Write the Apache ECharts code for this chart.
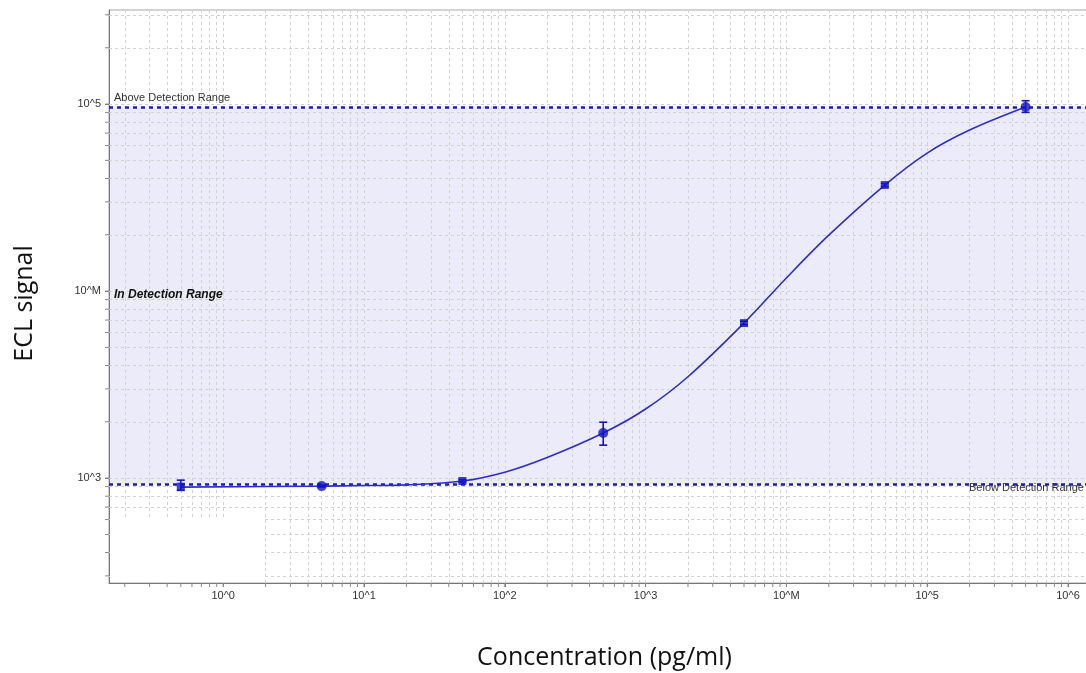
<!DOCTYPE html>
<html>
<head>
<meta charset="utf-8">
<title>ECL signal vs concentration</title>
<script src="https://cdn.jsdelivr.net/npm/echarts@6/dist/echarts.min.js"></script>
<style>
  html, body { margin: 0; padding: 0; background: #fff; }
  #chart { width: 1086px; height: 673px; }
</style>
</head>
<body>
<div id="chart"></div>
<script>
// 标准品浓度 (pg/ml) 与测得信号
const concentrations = [0.5, 5, 50, 500, 5000, 50000, 500000];
const meanSignal = [900, 906, 965, 1741, 6745, 36900, 96400];
const errLow = [860, 896, 950, 1500, 6600, 36200, 90300];
const errHigh = [975, 916, 982, 1990, 6900, 37600, 104200];
const markerShapes = ['rect', 'circle', 'rect', 'circle', 'rect', 'rect', 'circle'];

// 拟合曲线
const curveConc = [0.5, 5, 10, 20, 50, 100, 200, 500, 1000, 2000, 5000, 10000, 20000, 50000, 100000, 200000, 500000];
const curveSignal = [895, 906, 912, 920, 964, 1075, 1288, 1741, 2340, 3483, 6745, 11750, 19900, 36900, 54700, 72600, 96400];

// 检测范围
const lowerLimit = 928;
const upperLimit = 96000;

// 刻度标签
const xTickLabels = ['10^0', '10^1', '10^2', '10^3', '10^M', '10^5', '10^6'];
const yTickLabels = ['10^3', '10^M', '10^5'];
const yTickFirstExp = 3;

// 坐标范围
const xMin = Math.pow(10, -0.811);
const xMax = Math.pow(10, 6.142);
const yMin = Math.pow(10, 2.439);
const yMax = Math.pow(10, 5.503);

const BLUE = '#1414c4';
const LINE_BLUE = '#2c2cd2';
const GRID_GRAY = '#d2d2d2';
const TITLE_FONT = 'Open Sans';

function expOf(v) {
  const e = Math.log10(v);
  const r = Math.round(e);
  return Math.abs(e - r) < 1e-6 ? r : null;
}

// 1..9 x 10^k 网格线位置
function logGridValues(lo, hi) {
  const out = [];
  for (let k = Math.floor(Math.log10(lo)); k <= Math.ceil(Math.log10(hi)); k++) {
    for (let m = 1; m <= 9; m++) {
      const v = m * Math.pow(10, k);
      if (v > lo * 1.001 && v < hi * 0.999) out.push(v);
    }
  }
  return out;
}

const xGrid = logGridValues(xMin, xMax);
const yGrid = logGridValues(yMin, yMax);

const chart = echarts.init(document.getElementById('chart'));

const option = {
  animation: false,
  backgroundColor: '#fff',
  grid: {
    left: 109,
    right: -2,
    top: 10,
    bottom: 90,
    outerBoundsMode: 'none',
    containLabel: false,
    show: true,
    borderColor: '#a8a8a8',
    borderWidth: 1,
    backgroundColor: 'transparent'
  },
  xAxis: {
    type: 'log',
    logBase: 10,
    min: xMin,
    max: xMax,
    name: 'Concentration (pg/ml)',
    nameLocation: 'middle',
    nameGap: 62,
    nameTextStyle: { fontFamily: TITLE_FONT, fontSize: 25, color: '#111', padding: [0, 0, 0, 12] },
    axisLine: { show: true, lineStyle: { color: '#777', width: 1 } },
    axisTick: { show: true, length: 4, lineStyle: { color: '#777' } },
    axisLabel: {
      showMinLabel: false,
      showMaxLabel: false,
      margin: 7,
      fontFamily: 'Liberation Sans',
      fontSize: 11,
      color: '#333',
      formatter: v => {
        const e = expOf(v);
        return e === null || e < 0 || e >= xTickLabels.length ? '' : xTickLabels[e];
      }
    },
    splitLine: { show: false }
  },
  yAxis: {
    type: 'log',
    logBase: 10,
    min: yMin,
    max: yMax,
    name: 'ECL signal',
    nameLocation: 'middle',
    nameGap: 72,
    nameTextStyle: { fontFamily: TITLE_FONT, fontSize: 25, color: '#111', padding: [0, 14, 0, 0] },
    axisLine: { show: true, lineStyle: { color: '#777', width: 1 } },
    axisTick: { show: true, length: 4, lineStyle: { color: '#777' } },
    axisLabel: {
      showMinLabel: false,
      showMaxLabel: false,
      margin: 8,
      fontFamily: 'Liberation Sans',
      fontSize: 11,
      color: '#333',
      formatter: v => {
        const e = expOf(v);
        if (e === null) return '';
        const i = e - yTickFirstExp;
        return i < 0 || i >= yTickLabels.length ? '' : yTickLabels[i];
      }
    },
    splitLine: { show: false }
  },
  graphic: [
    {
      type: 'rect',
      z: 10,
      shape: { x: 110, y: 518, width: 155, height: 64 },
      style: { fill: '#fff' }
    },
    {
      type: 'text',
      z: 10,
      left: 114,
      top: 289,
      style: {
        text: 'In Detection Range',
        font: 'italic bold 12px "Liberation Sans"',
        fill: '#111'
      }
    },
    {
      type: 'text',
      z: 10,
      left: 969,
      top: 482,
      style: {
        text: 'Below Detection Range',
        font: '11px "Liberation Sans"',
        fill: '#333'
      }
    }
  ],
  series: [
    // 检测范围底色
    {
      name: 'band',
      type: 'line',
      data: [],
      z: 0,
      silent: true,
      markArea: {
        silent: true,
        z: 0,
        itemStyle: { color: '#ebebfa' },
        data: [[{ yAxis: lowerLimit }, { yAxis: upperLimit }]]
      }
    },
    // 次网格线
    {
      name: 'grid',
      type: 'line',
      data: [],
      z: 1,
      silent: true,
      markLine: {
        silent: true,
        z: 1,
        symbol: 'none',
        animation: false,
        label: { show: false },
        lineStyle: { color: GRID_GRAY, type: [3, 3], width: 1 },
        data: xGrid.map(v => ({ xAxis: v })).concat(yGrid.map(v => ({ yAxis: v })))
      }
    },
    // 次刻度
    {
      name: 'minorTicks',
      type: 'custom',
      clip: false,
      silent: true,
      z: 1,
      data: xGrid.map(v => [v, yMin, 0]).concat(yGrid.map(v => [xMin, v, 1])),
      renderItem: (params, api) => {
        const p = api.coord([api.value(0), api.value(1)]);
        const vertical = api.value(2) === 0;
        return {
          type: 'line',
          shape: vertical
            ? { x1: p[0], y1: p[1], x2: p[0], y2: p[1] + 4 }
            : { x1: p[0], y1: p[1], x2: p[0] - 4, y2: p[1] },
          style: { stroke: '#888', lineWidth: 1 }
        };
      }
    },
    // 检测上下限
    {
      name: 'limits',
      type: 'line',
      data: [],
      z: 3,
      markLine: {
        silent: true,
        z: 3,
        symbol: 'none',
        lineStyle: { color: '#1a1ad2', type: [4, 4], width: 2.5 },
        data: [
          {
            yAxis: upperLimit,
            label: {
              show: true,
              formatter: 'Above Detection Range',
              position: 'insideStartTop',
              distance: [5, 4],
              fontFamily: 'Liberation Sans',
              fontSize: 11,
              color: '#333'
            }
          },
          { yAxis: lowerLimit, label: { show: false } }
        ]
      }
    },
    // 拟合曲线
    {
      name: 'fit',
      type: 'line',
      z: 4,
      smooth: 0.35,
      showSymbol: false,
      silent: true,
      lineStyle: { color: LINE_BLUE, width: 1.6 },
      data: curveConc.map((c, i) => [c, curveSignal[i]])
    },
    // 误差线
    {
      name: 'error',
      type: 'custom',
      z: 5,
      silent: true,
      data: concentrations.map((c, i) => [c, errLow[i], errHigh[i]]),
      renderItem: (params, api) => {
        const lo = api.coord([api.value(0), api.value(1)]);
        const hi = api.coord([api.value(0), api.value(2)]);
        const cap = 4;
        const style = { stroke: BLUE, lineWidth: 1.6 };
        return {
          type: 'group',
          children: [
            { type: 'line', shape: { x1: lo[0], y1: lo[1], x2: hi[0], y2: hi[1] }, style },
            { type: 'line', shape: { x1: lo[0] - cap, y1: lo[1], x2: lo[0] + cap, y2: lo[1] }, style },
            { type: 'line', shape: { x1: hi[0] - cap, y1: hi[1], x2: hi[0] + cap, y2: hi[1] }, style }
          ]
        };
      }
    },
    // 标准品均值
    {
      name: 'standards',
      type: 'scatter',
      z: 6,
      symbolSize: 9,
      itemStyle: { color: BLUE },
      data: concentrations.map((c, i) => ({
        value: [c, meanSignal[i]],
        symbol: markerShapes[i],
        symbolSize: markerShapes[i] === 'rect' ? 8 : 10
      }))
    }
  ]
};

chart.setOption(option);
</script>
</body>
</html>
